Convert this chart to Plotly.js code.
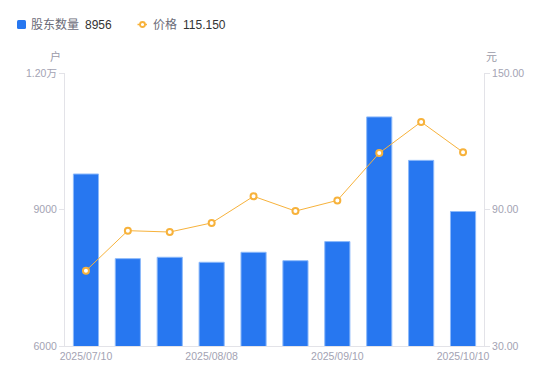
<!DOCTYPE html>
<html>
<head>
<meta charset="utf-8">
<script src="https://cdn.plot.ly/plotly-3.0.1.min.js"></script>
<style>html,body{margin:0;padding:0;background:#fff;}#chart{width:550px;height:381px;}</style>
</head>
<body>
<div id="chart"></div>
<script>
const dates = ["2025/07/10","2025/07/18","2025/07/31","2025/08/08","2025/08/20","2025/08/29","2025/09/10","2025/09/19","2025/09/30","2025/10/10"];
const holders = [9780, 7920, 7950, 7840, 8060, 7875, 8295, 11035, 10080, 8956];
const price = [63.1, 80.7, 80.1, 84.1, 95.8, 89.3, 94.0, 114.8, 128.5, 115.15];
const xTickVals = ["2025/07/10","2025/08/08","2025/09/10","2025/10/10"];
const yLeftTicks = [6000, 9000, 12000];
const yLeftText = ["6000", "9000", "1.20万"];
const yRightTicks = [30, 90, 150];
const yRightText = ["30.00", "90.00", "150.00"];
const legendHolders = {name: "股东数量", value: "8956"};
const legendPrice = {name: "价格", value: "115.150"};

const FONT = "Liberation Sans, Arial, Noto Sans CJK SC, sans-serif";
const BLUE = "#2777f0";
const ORANGE = "#f7b23b";
const AXIS = "#e3e3e8";
const TICKTXT = "#a3a3b3";

const traces = [
  {type: "bar", x: dates, y: holders, yaxis: "y", name: legendHolders.name,
   marker: {color: BLUE, line: {color: "rgba(140,185,250,1)", width: 1}}, hoverinfo: "skip"},
  {type: "scatter", mode: "lines+markers", x: dates, y: price, yaxis: "y2", name: legendPrice.name,
   line: {color: ORANGE, width: 1},
   marker: {symbol: "circle", size: 6, color: "#ffffff", line: {color: ORANGE, width: 2}}, hoverinfo: "skip"}
];

const layout = {
  width: 550, height: 381,
  margin: {l: 65, r: 66, t: 73, b: 35},
  paper_bgcolor: "#fff", plot_bgcolor: "#fff",
  showlegend: false,
  bargap: 0.4,
  font: {family: FONT, size: 10.5, color: TICKTXT},
  xaxis: {type: "category", range: [-0.5, dates.length - 0.5], autorange: false, automargin: false,
          tickmode: "array", tickvals: xTickVals, ticktext: xTickVals,
          showline: true, linecolor: AXIS, linewidth: 1, ticks: "", showgrid: false, zeroline: false,
          tickfont: {size: 10.5, color: TICKTXT}, fixedrange: true},
  yaxis: {range: [6000, 12000], automargin: false, tickmode: "array", tickvals: yLeftTicks, ticktext: yLeftText,
          showline: true, linecolor: AXIS, linewidth: 1, ticks: "outside", ticklen: 5, tickcolor: AXIS,
          showgrid: false, zeroline: false, tickfont: {size: 10.5, color: TICKTXT}},
  yaxis2: {range: [30, 150], automargin: false, overlaying: "y", side: "right", tickmode: "array", tickvals: yRightTicks, ticktext: yRightText,
          showline: true, linecolor: AXIS, linewidth: 1, ticks: "outside", ticklen: 5, tickcolor: AXIS,
          showgrid: false, zeroline: false, tickfont: {size: 10.5, color: TICKTXT}},
  annotations: [
    {xref: "paper", yref: "paper", x: 0, y: 1, yanchor: "bottom", xanchor: "right", xshift: -2, yshift: 8,
     text: "户", showarrow: false, font: {size: 11, color: "#9a9aa8", family: FONT}},
    {xref: "paper", yref: "paper", x: 1, y: 1, yanchor: "bottom", xanchor: "left", xshift: 0, yshift: 8,
     text: "元", showarrow: false, font: {size: 11, color: "#9a9aa8", family: FONT}}
  ]
};

Plotly.newPlot("chart", traces, layout, {staticPlot: true, displayModeBar: false}).then(function(gd){
  const svgs = gd.querySelectorAll(".main-svg");
  const svg = svgs[svgs.length - 1];
  const ns = "http://www.w3.org/2000/svg";
  const g = document.createElementNS(ns, "g");
  function el(tag, attrs){ const e = document.createElementNS(ns, tag); for (const k in attrs) e.setAttribute(k, attrs[k]); g.appendChild(e); return e; }
  el("rect", {x: 17, y: 20, width: 9, height: 9, rx: 1.5, fill: BLUE});
  let t = el("text", {x: 31, y: 28.5, fill: "#6b6b78", "font-size": 12, "font-family": FONT}); t.textContent = legendHolders.name;
  t = el("text", {x: 85, y: 28.5, fill: "#333", "font-size": 12, "font-family": FONT}); t.textContent = legendHolders.value;
  el("line", {x1: 137.5, y1: 24.5, x2: 147, y2: 24.5, stroke: ORANGE, "stroke-width": 1.5});
  el("circle", {cx: 142.5, cy: 24.5, r: 2.5, fill: "#fff", stroke: ORANGE, "stroke-width": 1.8});
  t = el("text", {x: 153, y: 28.5, fill: "#6b6b78", "font-size": 12, "font-family": FONT}); t.textContent = legendPrice.name;
  t = el("text", {x: 183, y: 28.5, fill: "#333", "font-size": 12, "font-family": FONT}); t.textContent = legendPrice.value;
  svg.appendChild(g);
});
</script>
</body>
</html>
